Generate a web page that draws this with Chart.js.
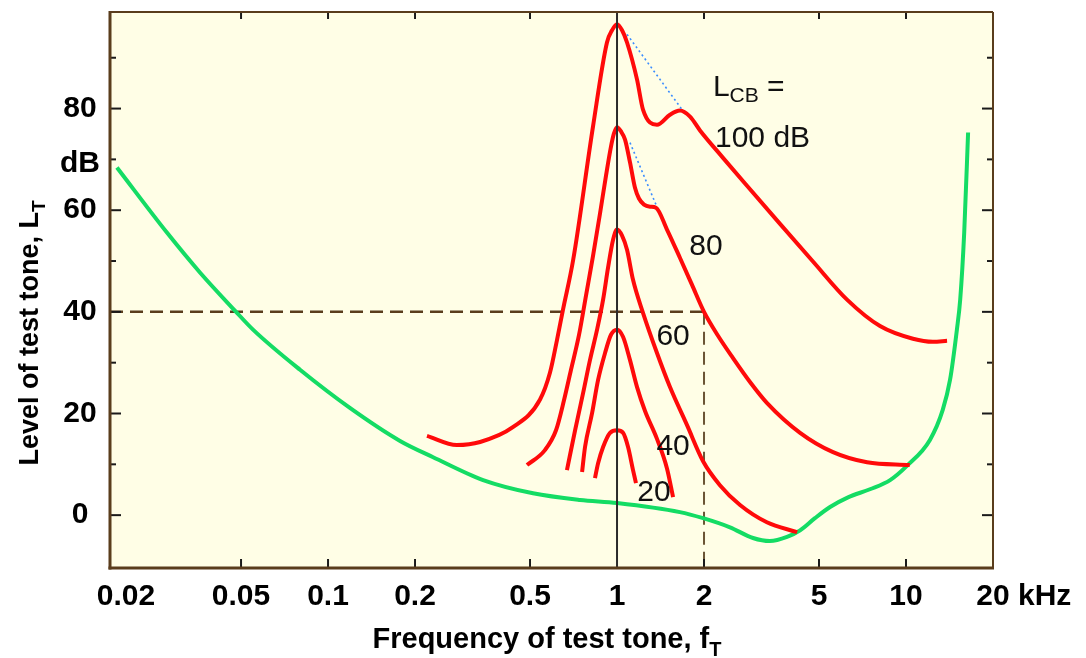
<!DOCTYPE html>
<html>
<head>
<meta charset="utf-8">
<script src="https://cdn.jsdelivr.net/npm/chart.js@4.4.1/dist/chart.umd.min.js"></script>
<style>
  html, body { margin: 0; padding: 0; background: #ffffff; }
</style>
</head>
<body>
<canvas id="masking" width="1086" height="658"></canvas>
<script>
/*- AXES
-----------------------------------------------------------------------*/
const xMin = 0.0176, xMax = 20;
const yMin = -10.4, yMax = 99;
const xTicks = [0.02, 0.05, 0.1, 0.2, 0.5, 1, 2, 5, 10, 20];
const xTickText = ['0.02', '0.05', '0.1', '0.2', '0.5', '1', '2', '5', '10', '20'];
const yTicks = [0, 20, 40, 60, 69.2, 80];
const yTickText = ['0', '20', '40', '60', 'dB', '80'];
const xMarks = [0.05, 0.1, 0.2, 0.5, 2, 5, 10];
const yMarks = [0, 10, 20, 30, 40, 50, 60, 70, 80, 90];

/*- DATA (kHz / dB)
-----------------------------------------------------------------------*/
// threshold in quiet
const quietF = [0.0186, 0.0277, 0.0361, 0.0477, 0.055, 0.080, 0.119, 0.1775, 0.231, 0.344, 0.512, 0.745, 1.0, 1.65, 1.985, 2.46, 2.955, 3.38, 3.875, 4.30, 4.84, 5.46, 6.30, 7.50, 8.81, 10.07, 12.1, 13.4, 14.2, 15.0, 15.4, 15.9, 16.4];
const quietL = [68.4, 55.6, 47.7, 40.2, 36.5, 28.6, 21.1, 14.6, 11.4, 6.9, 4.3, 3.0, 2.4, 0.6, -0.6, -2.4, -4.5, -5.1, -4.3, -3.0, -0.6, 1.6, 3.5, 5.1, 6.9, 9.7, 14.8, 20.7, 26.6, 36.5, 42.4, 55.6, 75.3];

// masked thresholds, critical-band noise at 1 kHz
const m100F = [0.220, 0.279, 0.336, 0.436, 0.541, 0.586, 0.620, 0.650, 0.705, 0.826, 0.923, 0.961, 1.0, 1.041, 1.083, 1.173, 1.230, 1.375, 1.525, 1.652, 1.789, 1.937, 2.327, 2.817, 3.665, 4.765, 6.25, 8.13, 10.57, 12.4, 13.87];
const m100L = [15.6, 13.8, 14.4, 17.3, 22.7, 28.0, 34.5, 40.4, 50.2, 76.5, 93.0, 95.4, 96.6, 95.4, 93.0, 85.7, 79.8, 76.8, 78.8, 79.6, 78.4, 75.7, 70.3, 64.8, 57.3, 49.9, 42.4, 37.2, 34.7, 34.1, 34.3];

const m80F = [0.488, 0.563, 0.615, 0.656, 0.693, 0.739, 0.781, 0.826, 0.873, 0.916, 0.953, 0.976, 1.0, 1.032, 1.066, 1.109, 1.154, 1.191, 1.240, 1.301, 1.364, 1.489, 1.652, 1.818, 2.0, 2.236, 2.52, 2.885, 3.30, 4.30, 5.59, 7.33, 10.3];
const m80L = [9.85, 12.8, 16.7, 22.7, 28.6, 35.5, 43.2, 51.0, 59.3, 66.8, 72.5, 75.1, 76.3, 75.5, 73.9, 69.4, 64.4, 62.3, 61.1, 60.7, 60.5, 56.2, 50.6, 45.3, 40.0, 35.3, 30.9, 26.2, 22.1, 16.2, 12.4, 10.4, 9.85];

const m60F = [0.671, 0.716, 0.763, 0.806, 0.853, 0.895, 0.931, 0.969, 1.0, 1.041, 1.083, 1.136, 1.230, 1.375, 1.525, 1.747, 1.985, 2.27, 2.665, 3.30, 4.20];
const m60L = [8.87, 16.7, 24.0, 30.5, 36.5, 42.4, 48.7, 54.2, 56.2, 55.0, 52.2, 46.3, 39.8, 31.9, 25.2, 17.7, 10.6, 5.9, 2.0, -1.4, -3.35];

const m40F = [0.757, 0.775, 0.820, 0.860, 0.909, 0.953, 1.0, 1.049, 1.109, 1.173, 1.250, 1.375, 1.489, 1.563];
const m40L = [8.47, 13.4, 20.1, 26.6, 31.9, 35.5, 36.5, 35.1, 30.5, 25.2, 20.5, 15.0, 9.2, 3.55];

const m20F = [0.839, 0.860, 0.895, 0.946, 1.0, 1.049, 1.092, 1.136, 1.163];
const m20L = [7.3, 10.2, 13.4, 16.2, 16.7, 16.2, 13.4, 8.87, 6.3];

// dotted slopes without the nonlinear dip
const slope100F = [1.083, 1.679];
const slope100L = [94.6, 79.8];
const slope80F = [1.109, 1.364];
const slope80L = [73.3, 61.1];

// 40 dB / 2 kHz guide and the masker frequency
const guideHF = [xMin, 2], guideHL = [40, 40];
const guideVF = [2, 2], guideVL = [40, yMin];
const maskerF = [1, 1], maskerL = [yMin, yMax];

/*- HELPERS
-----------------------------------------------------------------------*/
const FONT = "'Liberation Sans', Arial, Helvetica, sans-serif";
Chart.defaults.font.family = FONT;

const pts = (f, l) => f.map((v, i) => ({ x: v, y: l[i] }));

function curve(f, l, color, width, order) {
  return {
    data: pts(f, l),
    borderColor: color,
    borderWidth: width,
    pointRadius: 0,
    fill: false,
    cubicInterpolationMode: 'monotone',
    order: order
  };
}

function straight(f, l, color, width, dash, order) {
  return {
    data: pts(f, l),
    borderColor: color,
    borderWidth: width,
    borderDash: dash,
    pointRadius: 0,
    fill: false,
    tension: 0,
    order: order
  };
}

/*- DECORATION: background, inward ticks, frame, titles, notes
-----------------------------------------------------------------------*/
const decor = {
  id: 'decor',
  beforeDraw(chart) {
    const { ctx, chartArea: a } = chart;
    ctx.save();
    ctx.fillStyle = '#fffee6';
    ctx.fillRect(a.left, a.top, a.right - a.left, a.bottom - a.top);
    ctx.restore();
  },
  afterDatasetsDraw(chart) {
    const { ctx, scales: { x, y } } = chart;
    ctx.save();
    ctx.fillStyle = '#111';
    ctx.font = '30px ' + FONT;
    ctx.textBaseline = 'middle';
    ctx.textAlign = 'center';
    [['80', 2.03, 52.8], ['60', 1.563, 35.1], ['40', 1.563, 13.4], ['20', 1.343, 4.5]].forEach(n => {
      ctx.fillText(n[0], x.getPixelForValue(n[1]), y.getPixelForValue(n[2]));
    });
    ctx.textAlign = 'left';
    ctx.textBaseline = 'alphabetic';
    const lx = x.getPixelForValue(2.147), ly = y.getPixelForValue(82.4);
    ctx.fillText('L', lx, ly);
    const lw = ctx.measureText('L').width;
    ctx.font = '21px ' + FONT;
    ctx.fillText('CB', lx + lw, ly + 6);
    const cw = ctx.measureText('CB').width;
    ctx.font = '30px ' + FONT;
    ctx.fillText(' =', lx + lw + cw, ly);
    ctx.fillText('100 dB', x.getPixelForValue(2.183), y.getPixelForValue(72.5));
    ctx.restore();
  },
  afterDraw(chart) {
    const { ctx, chartArea: a, scales: { x, y } } = chart;
    const seg = (x1, y1, x2, y2) => { ctx.beginPath(); ctx.moveTo(x1, y1); ctx.lineTo(x2, y2); ctx.stroke(); };
    ctx.save();

    // inward tick marks
    ctx.strokeStyle = '#1a1a1a';
    ctx.lineWidth = 2;
    xMarks.forEach(v => {
      const px = x.getPixelForValue(v);
      seg(px, a.bottom, px, a.bottom - 9);
      seg(px, a.top, px, a.top + 7);
    });
    yMarks.forEach(v => {
      const py = y.getPixelForValue(v);
      const len = v % 20 === 0 ? 11 : 6;
      seg(a.left, py, a.left + len, py);
      seg(a.right, py, a.right - len, py);
    });

    // frame
    ctx.strokeStyle = '#5a3d1c';
    ctx.lineWidth = 3;
    seg(a.left, a.top - 1, a.left, a.bottom + 1.5);
    seg(a.left - 1.5, a.bottom, a.right + 1, a.bottom);
    ctx.lineWidth = 2;
    seg(a.left, a.top, a.right, a.top);
    seg(a.right, a.top, a.right, a.bottom);

    // unit after the last frequency label
    const items = x.getLabelItems();
    const last = items[items.length - 1];
    ctx.fillStyle = '#000';
    ctx.font = 'bold 30px ' + FONT;
    ctx.textAlign = 'left';
    ctx.textBaseline = last.options.textBaseline;
    const w20 = ctx.measureText('20').width;
    ctx.fillText(' kHz', x.getPixelForValue(20) + w20 / 2, last.options.translation[1] + last.textOffset);

    // x title with subscript
    ctx.textBaseline = 'alphabetic';
    const xt = 'Frequency of test tone, f';
    ctx.font = 'bold 29px ' + FONT;
    const xw = ctx.measureText(xt).width;
    ctx.font = 'bold 20px ' + FONT;
    const sw = ctx.measureText('T').width;
    let sx = 547 - (xw + sw) / 2;
    ctx.font = 'bold 29px ' + FONT;
    ctx.fillText(xt, sx, 648);
    ctx.font = 'bold 20px ' + FONT;
    ctx.fillText('T', sx + xw, 656);

    // y title, rotated, with subscript
    ctx.save();
    ctx.translate(38, 333);
    ctx.rotate(-Math.PI / 2);
    const yt = 'Level of test tone, L';
    ctx.font = 'bold 27px ' + FONT;
    const yw = ctx.measureText(yt).width;
    ctx.font = 'bold 19px ' + FONT;
    const tw = ctx.measureText('T').width;
    sx = -(yw + tw) / 2;
    ctx.font = 'bold 27px ' + FONT;
    ctx.fillText(yt, sx, 0);
    ctx.font = 'bold 19px ' + FONT;
    ctx.fillText('T', sx + yw, 7);
    ctx.restore();

    ctx.restore();
  }
};

/*- CHART
-----------------------------------------------------------------------*/
const RED = '#ff0a0a', GREEN = '#14dc64', BLUE = '#3a8dff', BROWN = '#5a3d1c';

new Chart(document.getElementById('masking'), {
  type: 'line',
  data: {
    datasets: [
      straight(maskerF, maskerL, '#2b2b2b', 2, [], 0),
      straight(slope100F, slope100L, BLUE, 1.6, [2, 3], 1),
      straight(slope80F, slope80L, BLUE, 1.6, [2, 3], 1),
      curve(m100F, m100L, RED, 4, 2),
      curve(m80F, m80L, RED, 4, 2),
      curve(m60F, m60L, RED, 4, 2),
      curve(m40F, m40L, RED, 4, 2),
      curve(m20F, m20L, RED, 4, 2),
      curve(quietF, quietL, GREEN, 4, 3),
      straight(guideHF, guideHL, BROWN, 2.5, [13, 7], 4),
      straight(guideVF, guideVL, '#6b5535', 2, [13, 7], 4)
    ]
  },
  options: {
    responsive: false,
    animation: false,
    events: [],
    layout: { padding: { top: 12, right: 93, left: 0, bottom: 0 } },
    plugins: { legend: { display: false }, tooltip: { enabled: false } },
    scales: {
      x: {
        type: 'logarithmic',
        min: xMin,
        max: xMax,
        grid: { display: false, drawTicks: false },
        border: { display: false },
        afterBuildTicks: s => { s.ticks = xTicks.map(v => ({ value: v })); },
        afterFit: s => { s.height = 90; s.paddingLeft = 0; s.paddingRight = 0; },
        ticks: {
          autoSkip: false,
          maxRotation: 0,
          padding: 11,
          color: '#000',
          font: { size: 30, weight: 'bold' },
          callback: (v, i) => xTickText[i]
        }
      },
      y: {
        type: 'linear',
        min: yMin,
        max: yMax,
        grid: { display: false, drawTicks: false },
        border: { display: false },
        afterBuildTicks: s => { s.ticks = yTicks.map(v => ({ value: v })); },
        afterFit: s => { s.width = 110; s.paddingTop = 0; s.paddingBottom = 0; },
        ticks: {
          crossAlign: 'center',
          padding: 10,
          color: '#000',
          font: { size: 30, weight: 'bold' },
          callback: (v, i) => yTickText[i]
        }
      }
    }
  },
  plugins: [decor]
});
</script>
</body>
</html>
